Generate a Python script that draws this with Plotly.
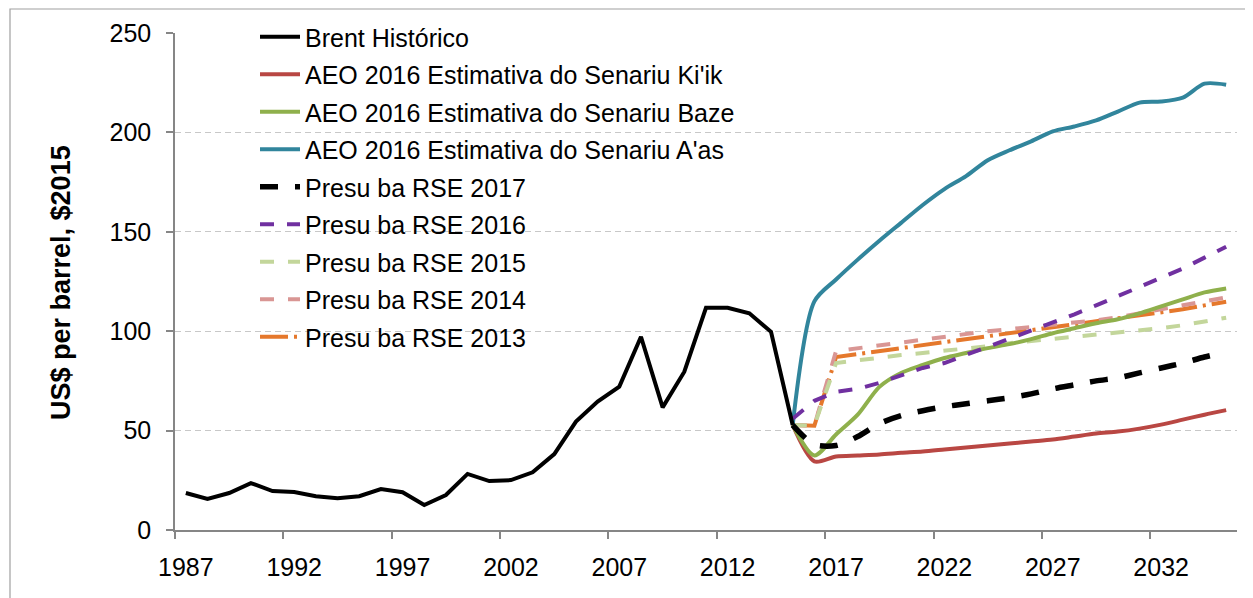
import plotly.graph_objects as go

hist_years = list(range(1987, 2016))
brent = [18.6, 15.6, 18.6, 23.6, 19.6, 19.1, 17.0, 16.0, 17.0, 20.6, 19.0, 12.6, 17.6,
         28.2, 24.6, 25.1, 29.0, 38.2, 54.5, 64.6, 72.1, 97.2, 61.7, 79.6, 111.8, 111.8,
         109.0, 99.7, 52.8]

proj_years = list(range(2015, 2036))
aeo_low = [52.8, 34.5, 37.0, 37.5, 38.0, 38.8, 39.5, 40.5, 41.5, 42.5, 43.5, 44.5, 45.5,
           47.0, 48.5, 49.5, 51.0, 53.0, 55.5, 58.0, 60.3]
aeo_ref = [52.8, 37.5, 48.0, 58.0, 72.0, 79.0, 83.0, 86.5, 89.0, 91.5, 93.5, 96.0, 99.0,
           101.5, 104.0, 106.0, 109.0, 112.5, 116.0, 119.5, 121.5]
aeo_high = [52.8, 115.0, 126.0, 136.0, 145.5, 154.5, 163.5, 171.5, 178.0, 186.0, 191.0,
            195.5, 200.5, 203.0, 206.0, 210.5, 215.0, 215.5, 217.5, 224.5, 224.0]
rse_2017 = [52.8, 43.0, 42.5, 47.0, 53.5, 57.5, 60.0, 62.0, 63.5, 65.0, 66.5, 68.5, 71.0,
            73.0, 75.0, 76.5, 79.0, 81.5, 84.0, 87.0, 89.5]
rse_2016 = [56.0, 65.0, 69.5, 71.0, 74.0, 78.0, 81.5, 84.0, 88.0, 92.0, 96.0, 100.0, 104.0,
            108.5, 113.0, 117.5, 122.0, 127.0, 131.5, 137.0, 142.5]
rse_2015 = [52.8, 52.5, 84.0, 85.5, 86.5, 88.0, 89.0, 90.0, 91.0, 92.5, 94.0, 95.0, 96.5,
            97.0, 98.0, 99.5, 100.5, 101.5, 103.0, 105.0, 106.8]
rse_2014 = [52.8, 52.5, 90.0, 91.5, 93.0, 94.5, 96.0, 97.5, 98.5, 100.0, 101.0, 102.0,
            103.0, 104.0, 105.5, 107.0, 109.0, 111.0, 113.0, 115.0, 117.0]
rse_2013 = [52.8, 52.5, 87.0, 88.5, 90.0, 91.5, 93.0, 94.5, 96.0, 97.5, 99.0, 100.5, 102.0,
            103.5, 105.0, 106.5, 108.0, 109.5, 111.0, 113.0, 114.8]

tick_labels = ["1987", "1992", "1997", "2002", "2007", "2012", "2017", "2022", "2027", "2032"]
tick_years = [int(t) for t in tick_labels]
y_ticks = [0, 50, 100, 150, 200, 250]

FONT = "Liberation Sans"

# page offset introduced by the default 8px body margin
OFF = 8
W, H = 1253 - OFF, 598 - OFF
PL, PR, PT, PB = 175, 1237, 33, 530  # desired plot area in page pixels
ML, MT = PL - OFF, PT - OFF
MR = W - (PR - OFF)
MB = H - (PB - OFF)
PW, PH = PR - PL, PB - PT


def px_x(x):
    return (x - PL) / PW


def px_y(y):
    return (PB - y) / PH


fig = go.Figure()


def add(x, y, name, color, width, dash="solid", shape="linear", rank=0):
    fig.add_trace(go.Scatter(
        x=x, y=y, mode="lines", name=name, legendrank=rank, legendgroup=name,
        line=dict(color=color, width=width, dash=dash, shape=shape, smoothing=0.8),
    ))


add(proj_years, rse_2013, "Presu ba RSE 2013", "#E5782C", 4, "28px,6px,3px,6px", rank=9)
add(proj_years, rse_2014, "Presu ba RSE 2014", "#D99694", 4, "14px,14px", rank=8)
add(proj_years, rse_2015, "Presu ba RSE 2015", "#C3D69B", 4, "14px,14px", rank=7)
add(proj_years, aeo_low, "AEO 2016 Estimativa do Senariu Ki'ik", "#B94743", 4, shape="spline", rank=2)
add(proj_years, aeo_ref, "AEO 2016 Estimativa do Senariu Baze", "#8FB04C", 4, shape="spline", rank=3)
add(proj_years, aeo_high, "AEO 2016 Estimativa do Senariu A'as", "#31859C", 4, shape="spline", rank=4)
add(proj_years, rse_2016, "Presu ba RSE 2016", "#7030A0", 4, "14px,13px", rank=6)
add(proj_years, rse_2017, "Presu ba RSE 2017", "#000000", 5.5, "18px,17px", shape="spline", rank=5)
add(hist_years, brent, "Brent Histórico", "#000000", 4, rank=1)

fig.update_layout(
    width=W, height=H,
    margin=dict(l=ML, r=MR, t=MT, b=MB, autoexpand=False),
    paper_bgcolor="white", plot_bgcolor="white",
    font=dict(family=FONT, size=25, color="#000000"),
    showlegend=True,
    legend=dict(
        x=px_x(255), y=px_y(14), xanchor="left", yanchor="top",
        bgcolor="rgba(0,0,0,0)", font=dict(family=FONT, size=25),
        traceorder="grouped", tracegroupgap=2, itemwidth=40, maxheight=560,
    ),
    xaxis=dict(
        range=[1986.5, 2035.5], tickmode="array", tickvals=tick_years, ticktext=tick_labels,
        ticks="", showgrid=False, zeroline=False,
        showline=True, linecolor="#868686", linewidth=1.5,
        ticklabelstandoff=14,
        minor=dict(tick0=1986.5, dtick=5, ticks="outside", ticklen=7,
                   tickcolor="#868686", tickwidth=1.5, showgrid=False),
        tickfont=dict(family=FONT, size=25),
    ),
    yaxis=dict(
        range=[0, 250], tickmode="array", tickvals=y_ticks,
        ticks="outside", ticklen=7, tickcolor="#868686", tickwidth=1.5,
        showline=True, linecolor="#868686", linewidth=1.5,
        showgrid=True, gridcolor="#C8C8C8", gridwidth=1.3, griddash="6px,4px",
        zeroline=False, ticklabelstandoff=10,
        tickfont=dict(family=FONT, size=25),
    ),
    annotations=[dict(
        text="<b>US$ per barrel, $2015</b>", textangle=-90,
        xref="paper", yref="paper", x=px_x(61), y=px_y(283),
        xanchor="center", yanchor="middle", showarrow=False,
        font=dict(family=FONT, size=27, color="#000000"),
    )],
    shapes=[dict(
        type="rect", xref="paper", yref="paper",
        x0=px_x(10), x1=px_x(1290),
        y0=px_y(650), y1=px_y(9),
        line=dict(color="#A0A0A0", width=1.2), layer="below",
    )],
)

fig.write_html("out.html")
